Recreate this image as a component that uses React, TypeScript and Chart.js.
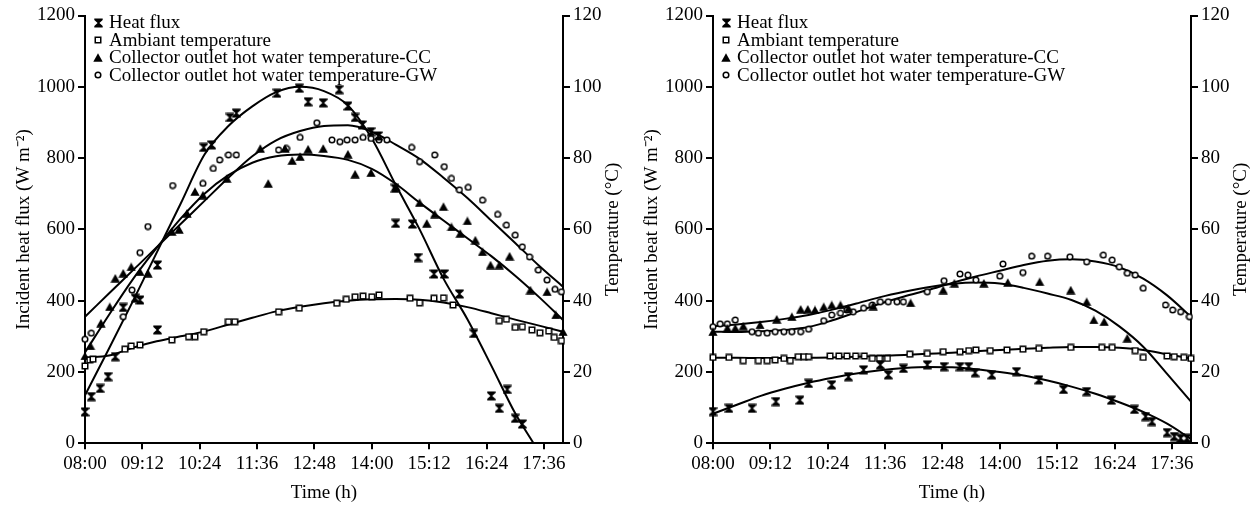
import React, { useEffect, useRef } from 'react';
import { Chart, registerables } from 'chart.js';

Chart.register(...registerables);

const FONT = '"Liberation Serif", "Times New Roman", Times, serif';
const FS = 19;

// ---------- Tick labels / series names ----------
const X_TICK_STEP = 72; // minutes between time ticks
const LABEL_HEAT = 'Heat flux';
const LABEL_AMB = 'Ambiant temperature';
const LABEL_CC = 'Collector outlet hot water temperature-CC';
const LABEL_GW = 'Collector outlet hot water temperature-GW';
const Y_TITLE_A = 'Incident heat flux (W m\u207B\u00B2)';
const Y_TITLE_B = 'Incident beat flux (W m\u207B\u00B2)';
const Y1_TITLE = 'Temperature (\u00B0C)';
const X_TITLE = 'Time (h)';

// Fitted-curve sample times (every 30 min)
const FIT_T = ['08:00', '08:30', '09:00', '09:30', '10:00', '10:30', '11:00', '11:30', '12:00', '12:30', '13:00',
  '13:30', '14:00', '14:30', '15:00', '15:30', '16:00', '16:30', '17:00', '17:30', '18:00'];

// ---------- Panel A (left) ----------
const A_HEAT_T = ['08:00', '08:08', '08:19', '08:29', '08:38', '08:48', '09:03', '09:09', '09:31', '09:31', '10:29', '10:39',
  '11:02', '11:10', '12:01', '12:29', '12:40', '12:59', '13:19', '13:30', '13:39', '13:48', '13:59', '14:08', '14:29', '14:30',
  '14:51', '14:58', '15:18', '15:31', '15:50', '16:08', '16:30', '16:40', '16:50', '17:00', '17:09'];
const A_HEAT_V = [88, 131, 154, 187, 243, 381, 407, 402, 318, 500, 830, 837, 914, 926, 982, 996, 958, 955, 992, 946,
  914, 893, 874, 862, 715, 617, 615, 521, 475, 475, 419, 308, 133, 98, 151, 70, 54];
const A_HEAT_FIT_T = ['08:00', '08:30', '09:00', '09:30', '10:00', '10:30', '11:00', '11:30', '12:00', '12:30', '13:00',
  '13:30', '14:00', '14:30', '15:00', '15:30', '16:00', '16:30', '17:00', '17:23'];
const A_HEAT_FIT_V = [135, 265, 398, 535, 672, 810, 890, 945, 985, 1000, 988, 948, 855, 725, 600, 462, 348, 218, 84, 0];

const A_AMB_T = ['08:00', '08:06', '08:10', '08:50', '08:58', '09:09', '09:49', '10:10', '10:18', '10:29', '11:00', '11:08',
  '12:03', '12:29', '13:16', '13:28', '13:39', '13:49', '14:00', '14:09', '14:48', '15:00', '15:18', '15:30', '15:42', '16:40',
  '16:49', '17:00', '17:09', '17:21', '17:31', '17:42', '17:49', '17:58'];
const A_AMB_V = [21.7, 23.4, 23.6, 26.4, 27.3, 27.6, 29.0, 29.9, 29.9, 31.3, 34.1, 34.1, 36.9, 37.9, 39.3, 40.4, 41.1,
  41.3, 41.1, 41.6, 40.7, 39.4, 40.7, 40.8, 38.8, 34.4, 34.8, 32.5, 32.7, 31.8, 31.0, 31.5, 29.7, 28.8];
const A_AMB_FIT = [24.0, 24.6, 26.8, 28.6, 30.0, 31.4, 33.3, 35.2, 37.0, 38.3, 39.3, 40.0, 40.4, 40.5, 40.3, 39.5, 38.2,
  36.5, 34.7, 33.0, 31.3];

const A_CC_T = ['08:00', '08:07', '08:20', '08:31', '08:38', '08:48', '08:58', '09:09', '09:19', '09:49', '09:58', '10:08',
  '10:18', '10:28', '10:58', '11:40', '11:50', '12:11', '12:20', '12:30', '12:40', '12:59', '13:30', '13:39', '13:59', '14:30',
  '15:00', '15:09', '15:19', '15:30', '15:40', '15:51', '16:00', '16:10', '16:19', '16:29', '16:40', '16:53', '17:19', '17:40',
  '17:51', '18:00'];
const A_CC_V = [24.5, 27.3, 33.7, 38.3, 46.3, 47.7, 49.5, 48.1, 47.7, 59.4, 60.0, 64.5, 70.6, 69.6, 74.3, 82.7, 72.9,
  82.7, 79.3, 80.4, 82.5, 82.7, 81.1, 75.5, 75.9, 72.0, 67.5, 61.7, 64.3, 66.4, 60.7, 58.9, 62.4, 57.0, 53.7, 50.0, 50.0,
  52.5, 43.0, 42.5, 36.0, 31.3];
const A_CC_FIT = [25.5, 36.0, 46.0, 54.8, 63.0, 70.0, 75.2, 78.7, 80.5, 81.0, 80.6, 79.5, 77.0, 72.8, 67.5, 62.5, 57.5,
  52.5, 47.0, 41.0, 34.6];

const A_GW_T = ['08:00', '08:08', '08:48', '08:59', '09:09', '09:19', '09:50', '10:28', '10:41', '10:49', '11:00', '11:10',
  '12:03', '12:13', '12:30', '12:51', '13:10', '13:20', '13:29', '13:39', '13:49', '13:59', '14:09', '14:19', '14:50', '15:00',
  '15:19', '15:31', '15:40', '15:50', '16:01', '16:19', '16:38', '16:49', '17:00', '17:09', '17:18', '17:29', '17:40', '17:50',
  '17:58'];
const A_GW_V = [29.2, 30.9, 35.5, 43.0, 53.5, 60.8, 72.3, 72.9, 77.1, 79.5, 80.9, 80.9, 82.3, 82.7, 85.8, 89.9, 85.1,
  84.6, 85.1, 85.1, 85.8, 85.5, 85.1, 85.1, 83.0, 79.0, 80.9, 77.6, 74.3, 71.1, 71.8, 68.2, 64.2, 61.2, 58.4, 55.1, 52.3,
  48.6, 45.8, 43.2, 42.5];
const A_GW_FIT = [35.5, 42.0, 48.5, 55.0, 61.5, 68.0, 74.5, 80.5, 85.0, 87.6, 89.0, 89.2, 87.4, 83.8, 79.8, 74.5, 68.8,
  62.5, 56.2, 49.8, 43.9];

// ---------- Panel B (right) ----------
const B_HEAT_T = ['08:00', '08:20', '08:49', '09:19', '09:49', '10:00', '10:29', '10:50', '11:09', '11:30', '11:40', '11:59',
  '12:29', '12:50', '13:10', '13:21', '13:29', '13:50', '14:21', '14:49', '15:20', '15:49', '16:20', '16:49', '17:03', '17:11',
  '17:30', '17:39', '17:47', '17:55'];
const B_HEAT_V = [89, 98, 98, 117, 121, 168, 164, 187, 206, 220, 192, 210, 220, 215, 215, 215, 198, 192, 201, 178, 151,
  145, 121, 95, 75, 61, 30, 19, 14, 14];
const B_HEAT_FIT = [83, 108, 133, 153, 170, 184, 196, 205, 211, 214, 213, 208, 200, 190, 176, 159, 139, 115, 88, 55, 12];

const B_AMB_T = ['08:00', '08:20', '08:38', '08:57', '09:08', '09:18', '09:29', '09:37', '09:47', '09:54', '10:00', '10:27',
  '10:38', '10:48', '10:59', '11:10', '11:20', '11:29', '11:39', '12:07', '12:29', '12:49', '13:10', '13:21', '13:30', '13:48',
  '14:09', '14:29', '14:49', '15:29', '16:08', '16:21', '16:50', '17:00', '17:30', '17:39', '17:51', '18:00'];
const B_AMB_V = [24.1, 24.1, 23.2, 23.2, 23.2, 23.4, 23.8, 23.2, 24.3, 24.3, 24.3, 24.5, 24.5, 24.5, 24.5, 24.5, 23.8,
  23.8, 23.8, 25.0, 25.2, 25.7, 25.7, 26.0, 26.2, 26.0, 26.2, 26.4, 26.6, 26.9, 26.9, 26.9, 26.0, 24.1, 24.5, 24.3, 24.1, 23.8];
const B_AMB_FIT = [24.0, 24.0, 23.9, 23.9, 24.0, 24.1, 24.3, 24.5, 24.8, 25.1, 25.4, 25.8, 26.2, 26.5, 26.8, 27.0, 27.0,
  26.8, 26.2, 25.0, 23.8];

const B_CC_T = ['08:00', '08:18', '08:28', '08:38', '08:59', '09:20', '09:39', '09:50', '09:59', '10:08', '10:19', '10:29',
  '10:40', '10:50', '11:21', '12:08', '12:49', '13:03', '13:40', '14:10', '14:50', '15:29', '15:49', '15:58', '16:11', '16:40'];
const B_CC_V = [31.3, 32.3, 32.3, 32.9, 33.2, 34.8, 35.5, 37.6, 37.6, 37.4, 38.3, 38.8, 38.8, 37.9, 38.5, 39.4, 43.0,
  44.9, 44.9, 45.1, 45.3, 43.0, 39.7, 34.6, 34.1, 29.5];
const B_CC_FIT = [32.8, 33.3, 34.0, 34.9, 36.0, 37.5, 39.2, 41.0, 42.5, 43.8, 44.7, 45.1, 44.8, 43.6, 42.0, 40.2, 37.2,
  32.8, 27.1, 19.5, 11.7];

const B_GW_T = ['08:00', '08:09', '08:18', '08:28', '08:49', '08:57', '09:08', '09:18', '09:29', '09:39', '09:50', '10:00',
  '10:19', '10:29', '10:40', '10:48', '10:56', '11:09', '11:20', '11:30', '11:40', '11:51', '11:59', '12:29', '12:50', '13:10',
  '13:20', '13:30', '14:00', '14:04', '14:29', '14:40', '15:00', '15:28', '15:49', '16:10', '16:21', '16:30', '16:40', '16:50',
  '17:00', '17:28', '17:37', '17:47', '17:58'];
const B_GW_V = [32.7, 33.5, 33.5, 34.6, 31.3, 30.9, 30.9, 31.3, 31.3, 31.3, 31.3, 32.0, 34.4, 36.0, 36.5, 37.4, 36.9,
  37.9, 38.8, 39.7, 39.7, 39.7, 39.7, 42.5, 45.6, 47.5, 47.2, 45.8, 46.9, 50.3, 47.9, 52.5, 52.5, 52.3, 50.9, 52.8, 51.4,
  49.5, 47.7, 47.2, 43.5, 38.8, 37.4, 36.9, 35.5];
const B_GW_FIT = [31.3, 31.2, 31.4, 31.8, 32.6, 34.5, 36.8, 39.2, 41.2, 43.0, 45.0, 46.8, 48.4, 50.0, 51.2, 51.6, 51.0,
  49.4, 46.2, 41.5, 35.5];

// ---------- helpers ----------
const toMin = (s: string) => {
  const [h, m] = s.split(':').map(Number);
  return h * 60 + m - 480;
};
const fmtTime = (v: number) => {
  const t = 480 + v;
  const h = Math.floor(t / 60);
  const m = Math.round(t % 60);
  return `${String(h).padStart(2, '0')}:${String(m).padStart(2, '0')}`;
};
const pts = (ts: string[], vs: number[]) => ts.map((t, i) => ({ x: toMin(t), y: vs[i] }));

function mk(w: number, h: number, draw: (g: CanvasRenderingContext2D) => void) {
  const c = document.createElement('canvas');
  c.width = w;
  c.height = h;
  draw(c.getContext('2d')!);
  return c;
}

function makeMarkers() {
  const hourglass = mk(9, 10, (g) => {
    g.fillStyle = '#000';
    g.beginPath();
    g.moveTo(0.3, 0.5);
    g.lineTo(8.7, 0.5);
    g.lineTo(8.7, 2);
    g.lineTo(5.4, 5);
    g.lineTo(8.7, 8);
    g.lineTo(8.7, 9.5);
    g.lineTo(0.3, 9.5);
    g.lineTo(0.3, 8);
    g.lineTo(3.6, 5);
    g.lineTo(0.3, 2);
    g.closePath();
    g.fill();
  });
  const square = mk(8, 8, (g) => {
    g.fillStyle = '#fff';
    g.fillRect(1, 1, 6, 6);
    g.strokeStyle = '#000';
    g.lineWidth = 1.5;
    g.strokeRect(1.25, 1.25, 5.5, 5.5);
  });
  const triangle = mk(10, 9, (g) => {
    g.fillStyle = '#000';
    g.beginPath();
    g.moveTo(5, 0.3);
    g.lineTo(9.7, 8.7);
    g.lineTo(0.3, 8.7);
    g.closePath();
    g.fill();
  });
  const circle = mk(8, 8, (g) => {
    g.fillStyle = '#fff';
    g.strokeStyle = '#000';
    g.lineWidth = 1.5;
    g.beginPath();
    g.arc(4, 4, 2.8, 0, Math.PI * 2);
    g.fill();
    g.stroke();
  });
  return { hourglass, square, triangle, circle };
}

const insideLegend = {
  id: 'insideLegend',
  afterDatasetsDraw(chart: any) {
    const { ctx, chartArea } = chart;
    const items = chart.data.datasets.filter((d: any) => d.label);
    ctx.save();
    ctx.font = `${FS}px ${FONT}`;
    ctx.fillStyle = '#000';
    ctx.textBaseline = 'middle';
    ctx.textAlign = 'left';
    items.forEach((d: any, i: number) => {
      const y = chartArea.top + 7 + i * 17.5;
      const img = d.pointStyle as HTMLCanvasElement;
      ctx.drawImage(img, Math.round(chartArea.left + 13 - img.width / 2), Math.round(y - img.height / 2));
      ctx.fillText(d.label, chartArea.left + 24, y + 1);
    });
    ctx.restore();
  },
};

const rightTitle = {
  id: 'rightTitle',
  afterDraw(chart: any, _args: any, opts: any) {
    const { ctx, chartArea } = chart;
    ctx.save();
    ctx.translate(chartArea.right + 50, (chartArea.top + chartArea.bottom) / 2);
    ctx.rotate(-Math.PI / 2);
    ctx.font = `${FS}px ${FONT}`;
    ctx.fillStyle = '#000';
    ctx.textAlign = 'center';
    ctx.textBaseline = 'middle';
    ctx.fillText(opts.text, 0, 0);
    ctx.restore();
  },
};

type PanelData = {
  heatT: string[]; heatV: number[]; heatFitT: string[]; heatFitV: number[];
  ambT: string[]; ambV: number[]; ambFit: number[];
  ccT: string[]; ccV: number[]; ccFit: number[];
  gwT: string[]; gwV: number[]; gwFit: number[];
};

const PANEL_A: PanelData = {
  heatT: A_HEAT_T, heatV: A_HEAT_V, heatFitT: A_HEAT_FIT_T, heatFitV: A_HEAT_FIT_V,
  ambT: A_AMB_T, ambV: A_AMB_V, ambFit: A_AMB_FIT,
  ccT: A_CC_T, ccV: A_CC_V, ccFit: A_CC_FIT,
  gwT: A_GW_T, gwV: A_GW_V, gwFit: A_GW_FIT,
};
const PANEL_B: PanelData = {
  heatT: B_HEAT_T, heatV: B_HEAT_V, heatFitT: FIT_T, heatFitV: B_HEAT_FIT,
  ambT: B_AMB_T, ambV: B_AMB_V, ambFit: B_AMB_FIT,
  ccT: B_CC_T, ccV: B_CC_V, ccFit: B_CC_FIT,
  gwT: B_GW_T, gwV: B_GW_V, gwFit: B_GW_FIT,
};

function buildConfig(p: PanelData, yTitle: string, rightWidth: number) {
  const mks = makeMarkers();
  const scatter = (label: string, data: any[], style: HTMLCanvasElement, axis: string) => ({
    label,
    data,
    yAxisID: axis,
    showLine: false,
    pointStyle: style,
    pointRadius: 4,
    pointHoverRadius: 4,
    clip: false,
  });
  const curve = (data: any[], axis: string) => ({
    data,
    yAxisID: axis,
    showLine: true,
    pointRadius: 0,
    pointHoverRadius: 0,
    borderColor: '#000',
    borderWidth: 2,
    fill: false,
    cubicInterpolationMode: 'monotone',
    clip: false,
  });
  const axisCommon = {
    grid: { drawOnChartArea: false, drawTicks: true, tickLength: 7, color: '#000', lineWidth: 2 },
    border: { display: true, color: '#000', width: 2 },
  };
  const tickFont = { family: FONT, size: FS };
  return {
    type: 'scatter',
    data: {
      datasets: [
        scatter(LABEL_HEAT, pts(p.heatT, p.heatV), mks.hourglass, 'y'),
        scatter(LABEL_AMB, pts(p.ambT, p.ambV), mks.square, 'y1'),
        scatter(LABEL_CC, pts(p.ccT, p.ccV), mks.triangle, 'y1'),
        scatter(LABEL_GW, pts(p.gwT, p.gwV), mks.circle, 'y1'),
        curve(pts(p.heatFitT, p.heatFitV), 'y'),
        curve(pts(FIT_T, p.ambFit), 'y1'),
        curve(pts(FIT_T, p.ccFit), 'y1'),
        curve(pts(FIT_T, p.gwFit), 'y1'),
      ],
    },
    options: {
      responsive: false,
      animation: false,
      events: [],
      layout: { padding: { top: 15.5, left: 0, right: 0, bottom: 0 } },
      plugins: {
        legend: { display: false },
        tooltip: { enabled: false },
        rightTitle: { text: Y1_TITLE },
      },
      scales: {
        x: {
          type: 'linear',
          min: 0,
          max: 600,
          ...axisCommon,
          grid: { ...axisCommon.grid, tickLength: 6 },
          ticks: {
            stepSize: X_TICK_STEP,
            includeBounds: false,
            autoSkip: false,
            maxRotation: 0,
            color: '#000',
            padding: 3,
            font: tickFont,
            callback: (v: number) => fmtTime(v),
          },
          title: {
            display: true,
            text: X_TITLE,
            color: '#000',
            font: tickFont,
            padding: { top: 0, bottom: 4 },
          },
          afterFit: (s: any) => { s.height = 64.7; },
        },
        y: {
          type: 'linear',
          position: 'left',
          min: 0,
          max: 1200,
          ...axisCommon,
          ticks: {
            stepSize: 200,
            color: '#000',
            padding: 3,
            font: tickFont,
            callback: (v: number) => String(v),
          },
          title: {
            display: true,
            text: yTitle,
            color: '#000',
            font: tickFont,
            padding: { top: 12.5, bottom: 0 },
          },
          afterFit: (s: any) => { s.width = 85; },
        },
        y1: {
          type: 'linear',
          position: 'right',
          min: 0,
          max: 120,
          ...axisCommon,
          ticks: {
            stepSize: 20,
            color: '#000',
            padding: 3,
            font: tickFont,
            callback: (v: number) => String(v),
          },
          title: { display: false },
          afterFit: (s: any) => { s.width = rightWidth; },
        },
      },
    },
    plugins: [insideLegend, rightTitle],
  };
}

function Panel({ data, yTitle, left, width }: { data: PanelData; yTitle: string; left: number; width: number }) {
  const ref = useRef<HTMLCanvasElement>(null);
  useEffect(() => {
    const rightWidth = width - 85 - 478;
    const chart = new Chart(ref.current as HTMLCanvasElement, buildConfig(data, yTitle, rightWidth) as any);
    return () => chart.destroy();
  }, []);
  return (
    <canvas
      ref={ref}
      width={width}
      height={508}
      style={{ position: 'absolute', left, top: 0, width, height: 508 }}
    />
  );
}

export default function App() {
  return (
    <div style={{ position: 'absolute', left: 0, top: 0, width: 1257, height: 508, background: '#fff', overflow: 'hidden' }}>
      <Panel data={PANEL_A} yTitle={Y_TITLE_A} left={0} width={628} />
      <Panel data={PANEL_B} yTitle={Y_TITLE_B} left={628} width={629} />
    </div>
  );
}
